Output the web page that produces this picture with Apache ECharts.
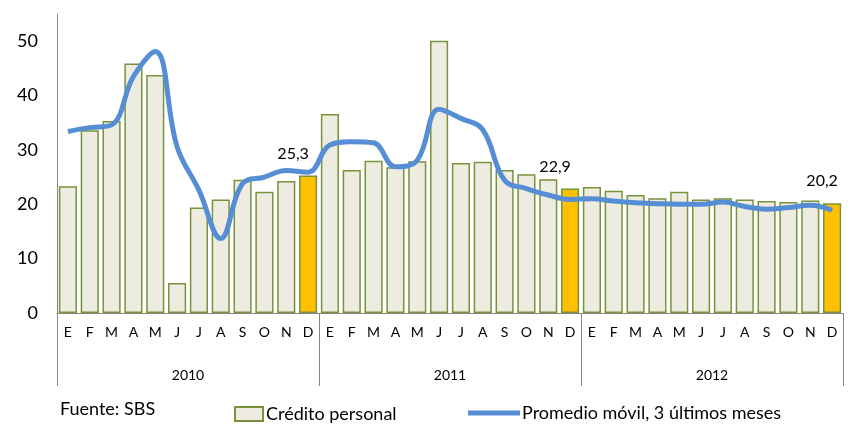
<!DOCTYPE html>
<html>
<head>
<meta charset="utf-8">
<script src="https://cdn.jsdelivr.net/npm/echarts@6/dist/echarts.min.js"></script>
<style>
  html, body { margin: 0; padding: 0; background: #fff; }
  #chart { width: 854px; height: 427px; }
</style>
</head>
<body>
<div id="chart"></div>
<script>
// meses y años
const months = ['E','F','M','A','M','J','J','A','S','O','N','D']
const years = ['2010', '2011', '2012']

// crédito personal (barras)
const credito = [
  23.3, 33.6, 35.3, 45.9, 43.8, 5.5, 19.4, 20.9, 24.5, 22.3, 24.3, 25.3,
  36.6, 26.3, 28.0, 26.8, 27.9, 50.1, 27.6, 27.8, 26.3, 25.5, 24.6, 22.9,
  23.2, 22.5, 21.7, 21.1, 22.3, 20.9, 21.1, 20.9, 20.6, 20.4, 20.7, 20.2
]

// promedio móvil (línea)
const promedio = [
  33.4, 34.1, 34.6, 43.5, 48.1, 30.6, 22.6, 13.7, 23.8, 25.0, 26.2, 25.9,
  30.9, 31.5, 31.3, 26.9, 28.1, 37.5, 35.8, 33.7, 24.4, 22.9, 21.7, 20.9,
  21.0, 20.6, 20.3, 20.1, 20.0, 20.0, 20.4, 19.6, 19.1, 19.4, 19.8, 18.9
]

// diciembres resaltados
const destacados = [11, 23, 35]

const categorias = []
years.forEach(y => months.forEach(m => categorias.push(m + '|' + y)))

const font = 'Lato, "Open Sans", sans-serif'

const chart = echarts.init(document.getElementById('chart'))

const barData = credito.map((v, i) => {
  if (!destacados.includes(i)) return v
  return {
    value: v,
    itemStyle: { color: '#ffc000' },
    label: {
      show: true,
      position: 'top',
      distance: 14,
      offset: [i === 35 ? -10 : -15, 0],
      fontFamily: font,
      fontSize: 16,
      color: '#000',
      formatter: p => p.value.toFixed(1).replace('.', ',')
    }
  }
})

const option = {
  animation: false,
  textStyle: { fontFamily: font },
  grid: { left: 57, right: 11, top: 14, bottom: 114 },
  xAxis: [
    {
      type: 'category',
      data: categorias,
      position: 'bottom',
      offset: 0,
      axisLine: { lineStyle: { color: '#868686', width: 1 } },
      axisTick: { show: false },
      axisLabel: {
        interval: 0,
        margin: 12,
        fontSize: 14,
        color: '#000',
        formatter: v => v.split('|')[0]
      }
    },
    {
      type: 'category',
      data: years,
      position: 'bottom',
      offset: 0,
      boundaryGap: true,
      axisLine: { show: false },
      axisTick: { show: true, length: 73, lineStyle: { color: '#868686' } },
      axisLabel: { margin: 55, fontSize: 14, color: '#000' }
    }
  ],
  yAxis: {
    type: 'value',
    min: 0,
    max: 55,
    interval: 10,
    axisLine: { show: true, lineStyle: { color: '#868686' } },
    axisTick: { show: false },
    splitLine: { show: false },
    axisLabel: {
      margin: 19,
      fontSize: 18,
      color: '#000',
      formatter: v => (v % 10 === 0 ? v : '')
    }
  },
  legend: [
    {
      data: [{ name: 'Crédito personal', icon: 'rect' }],
      left: 229,
      top: 400,
      itemWidth: 28,
      itemHeight: 14,
      itemGap: 4,
      textStyle: { fontSize: 18, color: '#000', fontFamily: font, padding: [0, 0, 0, -2] }
    },
    {
      data: [{
        name: 'Promedio móvil, 3 últimos meses',
        icon: 'rect',
        itemStyle: { color: '#558ed5', borderWidth: 0 }
      }],
      left: 463,
      top: 399,
      itemWidth: 52,
      itemHeight: 5,
      textStyle: { fontSize: 18, color: '#000', fontFamily: font, padding: [0, 0, 0, -3] }
    }
  ],
  graphic: [
    {
      type: 'text',
      left: 60,
      top: 400,
      style: { text: 'Fuente: SBS', fontSize: 18, fill: '#000', fontFamily: font }
    }
  ],
  series: [
    {
      name: 'Crédito personal',
      type: 'bar',
      xAxisIndex: 0,
      data: barData,
      barCategoryGap: '17%',
      itemStyle: { color: '#eeece1', borderColor: '#77933c', borderWidth: 1.5 }
    },
    {
      name: 'Promedio móvil, 3 últimos meses',
      type: 'line',
      xAxisIndex: 0,
      data: promedio,
      smooth: 0.4,
      symbol: 'none',
      lineStyle: { color: '#558ed5', width: 5 },
      itemStyle: { color: '#558ed5' }
    }
  ]
}

chart.setOption(option)
</script>
</body>
</html>
